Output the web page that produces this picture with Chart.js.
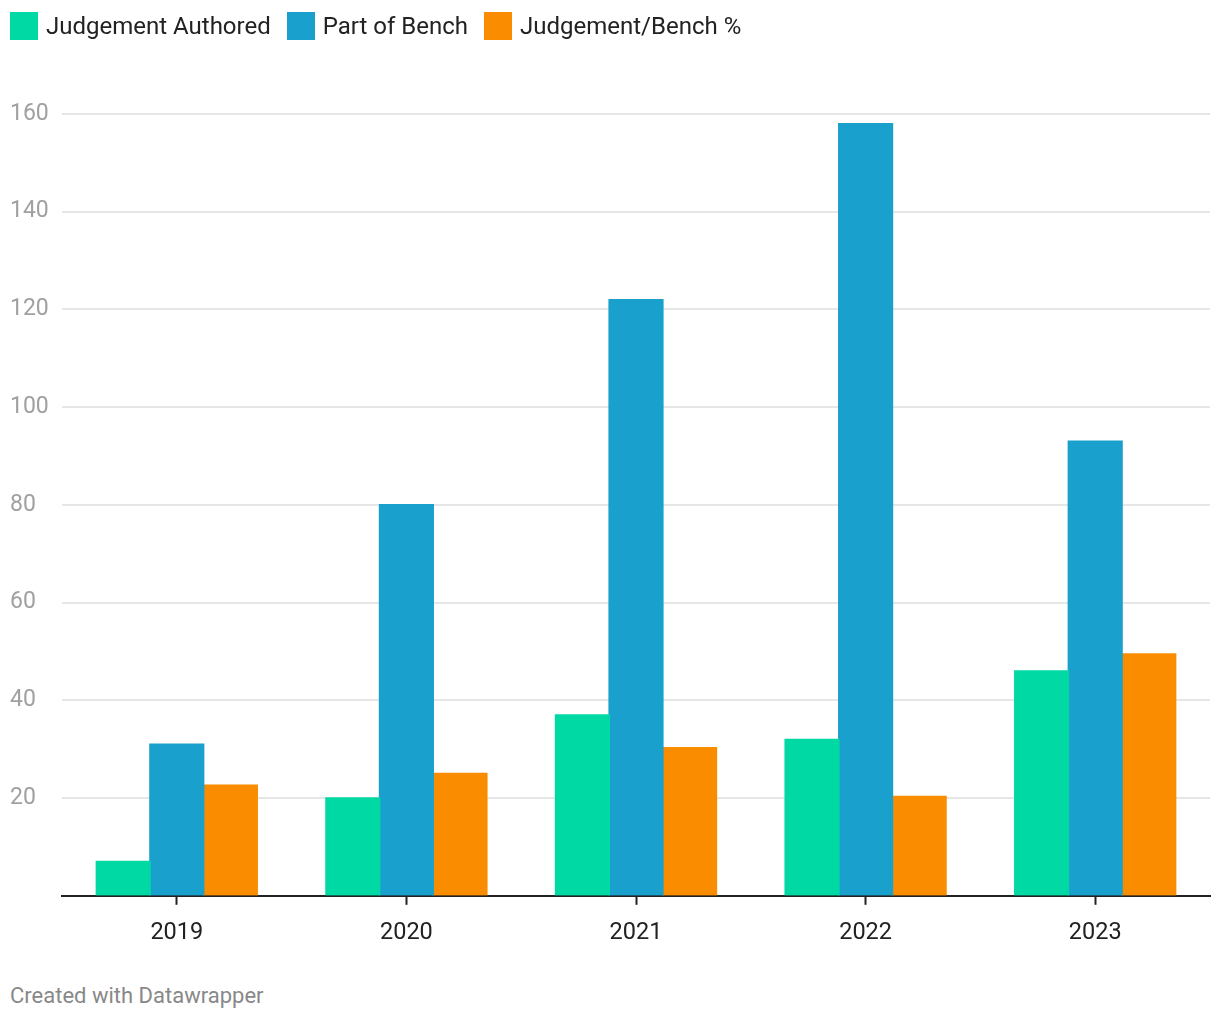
<!DOCTYPE html>
<html>
<head>
<meta charset="utf-8">
<script src="https://cdn.jsdelivr.net/npm/chart.js@4"></script>
<style>
  body { margin: 0; background: #fff; font-family: Roboto, sans-serif; }
  #wrap { position: relative; width: 1220px; height: 961px; }
  #legend { position: absolute; left: 10px; top: 12px; display: flex; align-items: center; font-size: 24px; color: #222; }
  #legend .item { display: flex; align-items: center; margin-right: 16px; }
  #legend .box { width: 28px; height: 28px; margin-right: 8px; }
  #footer { position: absolute; left: 10px; top: 983px; font-size: 22px; color: #888; }
</style>
</head>
<body>
<div id="wrap">
  <canvas id="myGraph" width="1220" height="961"></canvas>
  <div id="legend"></div>
</div>
<div id="footer">Created with Datawrapper</div>
<script>
const years = ["2019", "2020", "2021", "2022", "2023"];
const authored = [7, 20, 37, 32, 46];
const bench = [31, 80, 122, 158, 93];
const ratio = [22.6, 25, 30.3, 20.3, 49.5];
const yTicks = [20, 40, 60, 80, 100, 120, 140, 160];

const chart = new Chart(document.getElementById("myGraph"), {
  type: "bar",
  data: {
    labels: years,
    datasets: [
      { label: "Judgement Authored", data: authored, backgroundColor: "#01d9a5" },
      { label: "Part of Bench", data: bench, backgroundColor: "#19a0cc" },
      { label: "Judgement/Bench %", data: ratio, backgroundColor: "#fa8c00" },
    ],
  },
  options: {
    responsive: false,
    animation: false,
    layout: { padding: { left: 10, right: 10, top: 114, bottom: 0 } },
    datasets: { bar: { categoryPercentage: 0.7, barPercentage: 1.0, inflateAmount: 0.8 } },
    plugins: {
      tooltip: { enabled: false },
      legend: { display: false },
    },
    scales: {
      x: {
        grid: {
          display: true,
          drawOnChartArea: false,
          drawTicks: true,
          tickLength: 9,
          tickWidth: 2,
          tickColor: "#222",
          offset: false,
        },
        border: { display: true, color: "#222", width: 2 },
        ticks: { color: "#222", padding: 14, font: { family: "Roboto", size: 23.5 } },
      },
      y: {
        min: 0,
        max: 160,
        afterFit(scale) { scale.width = 52; },
        afterBuildTicks(scale) {
          scale.ticks = [0].concat(yTicks).map((v) => ({ value: v }));
        },
        grid: { color: "#e6e6e6", lineWidth: 2, drawTicks: false },
        border: { display: false },
        ticks: {
          color: "#a0a0a0",
          padding: 0,
          crossAlign: "far",
          font: { family: "Roboto", size: 23 },
          callback: (v) => (v === 0 ? "" : v),
        },
      },
    },
  },
});

// html legend from the chart's datasets
const legend = document.getElementById("legend");
chart.data.datasets.forEach((ds) => {
  const item = document.createElement("div");
  item.className = "item";
  item.innerHTML = '<span class="box" style="background:' + ds.backgroundColor + '"></span>' + ds.label;
  legend.appendChild(item);
});
</script>
</body>
</html>
